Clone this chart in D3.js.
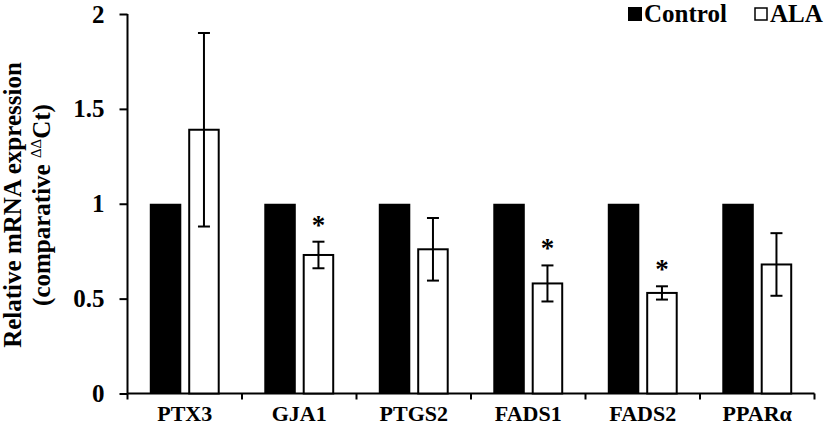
<!DOCTYPE html>
<html><head><meta charset="utf-8">
<script src="https://cdn.jsdelivr.net/npm/d3@7"></script>
<style>body{margin:0;background:#fff}svg{display:block}text{font-family:"Liberation Serif","Times New Roman",serif;font-weight:bold;fill:#000}</style>
</head><body><svg id="c" width="827" height="425"></svg>
<script>
const categories = ["PTX3","GJA1","PTGS2","FADS1","FADS2","PPARα"];
const series = ["Control","ALA"];
const controlValues = [1,1,1,1,1,1];
const alaValues = [1.39,0.73,0.76,0.58,0.53,0.68];
const alaErrors = [0.51,0.07,0.165,0.095,0.035,0.165];
const significant = [false,true,false,true,true,false];
const yTicks = [0,0.5,1,1.5,2];

const svg = d3.select("#c");
const y = d3.scaleLinear().domain([0,2]).range([393.5,14]);
const x0 = d3.scaleBand().domain(categories).range([127.5,814.5]);
const x1 = d3.scaleBand().domain(series).range([0,x0.bandwidth()]).paddingInner(0.18).paddingOuter(0.58);

// y axis
const ya = svg.append("g").attr("transform","translate(127.5,0)")
  .call(d3.axisLeft(y).tickValues(yTicks).tickFormat(d=>d).tickSize(8).tickPadding(15));
ya.select(".domain").attr("stroke","#000").attr("stroke-width",2).attr("d","M0,"+y(2)+"V"+y(0));
ya.selectAll(".tick line").attr("stroke","#000").attr("stroke-width",2);
ya.selectAll(".tick text").style("font-size","25px").attr("font-family",null);

// x axis
const xa = svg.append("g").attr("transform","translate(0,393.5)");
xa.append("line").attr("x1",127.5).attr("x2",814.5).attr("stroke","#000").attr("stroke-width",2);
const bounds = categories.map(c=>x0(c)).concat([x0(categories[categories.length-1])+x0.bandwidth()]);
xa.selectAll("line.t").data(bounds).join("line").attr("class","t")
  .attr("x1",d=>d).attr("x2",d=>d).attr("y1",0).attr("y2",6).attr("stroke","#000").attr("stroke-width",2);
xa.selectAll("text").data(categories).join("text")
  .attr("x",d=>x0(d)+x0.bandwidth()/2).attr("y",27).attr("text-anchor","middle")
  .style("font-size","22px").text(d=>d);

// bars
const g = svg.append("g");
g.selectAll("rect.ctrl").data(categories).join("rect").attr("class","ctrl")
  .attr("x",d=>x0(d)+x1("Control")).attr("width",x1.bandwidth())
  .attr("y",(d,i)=>y(controlValues[i])).attr("height",(d,i)=>y(0)-y(controlValues[i])).attr("fill","#000");
g.selectAll("rect.ala").data(categories).join("rect").attr("class","ala")
  .attr("x",d=>x0(d)+x1("ALA")+1).attr("width",x1.bandwidth()-2)
  .attr("y",(d,i)=>y(alaValues[i])).attr("height",(d,i)=>y(0)-y(alaValues[i]))
  .attr("fill","#fff").attr("stroke","#000").attr("stroke-width",2);

// error bars
const eb = g.selectAll("g.eb").data(categories).join("g").attr("class","eb");
const cx = d=>x0(d)+x1("ALA")+x1.bandwidth()/2;
eb.append("line").attr("x1",cx).attr("x2",cx)
  .attr("y1",(d,i)=>y(alaValues[i]+alaErrors[i])).attr("y2",(d,i)=>y(alaValues[i]-alaErrors[i]))
  .attr("stroke","#000").attr("stroke-width",2);
eb.append("line").attr("x1",d=>cx(d)-6).attr("x2",d=>cx(d)+6)
  .attr("y1",(d,i)=>y(alaValues[i]+alaErrors[i])).attr("y2",(d,i)=>y(alaValues[i]+alaErrors[i]))
  .attr("stroke","#000").attr("stroke-width",2);
eb.append("line").attr("x1",d=>cx(d)-6).attr("x2",d=>cx(d)+6)
  .attr("y1",(d,i)=>y(alaValues[i]-alaErrors[i])).attr("y2",(d,i)=>y(alaValues[i]-alaErrors[i]))
  .attr("stroke","#000").attr("stroke-width",2);

// asterisks
g.selectAll("text.sig").data(categories.filter((d,i)=>significant[i])).join("text").attr("class","sig")
  .attr("x",cx).attr("y",d=>{const i=categories.indexOf(d);return y(alaValues[i]+alaErrors[i])-8;})
  .attr("text-anchor","middle").style("font-size","27px").text("*");

// y label
const yl = svg.append("text").attr("transform","translate(21,205) rotate(-90)").attr("text-anchor","middle").style("font-size","25px");
yl.append("tspan").attr("x",0).attr("y",0).text("Relative mRNA expression");
yl.append("tspan").attr("x",0).attr("y",0).attr("dy",29).text("(comparative ");
yl.append("tspan").attr("dy",-9).style("font-size","15px").style("font-weight","normal").text("ΔΔ");
yl.append("tspan").attr("dy",9).text("Ct)");

// legend
const lg = svg.append("g");
lg.append("rect").attr("x",628).attr("y",7).attr("width",14).attr("height",14).attr("fill","#000");
lg.append("text").attr("x",644).attr("y",22).style("font-size","25px").text(series[0]);
lg.append("rect").attr("x",755).attr("y",8).attr("width",12).attr("height",12).attr("fill","#fff").attr("stroke","#000").attr("stroke-width",1.5);
lg.append("text").attr("x",770).attr("y",22).style("font-size","25px").text(series[1]);
</script></body></html>
